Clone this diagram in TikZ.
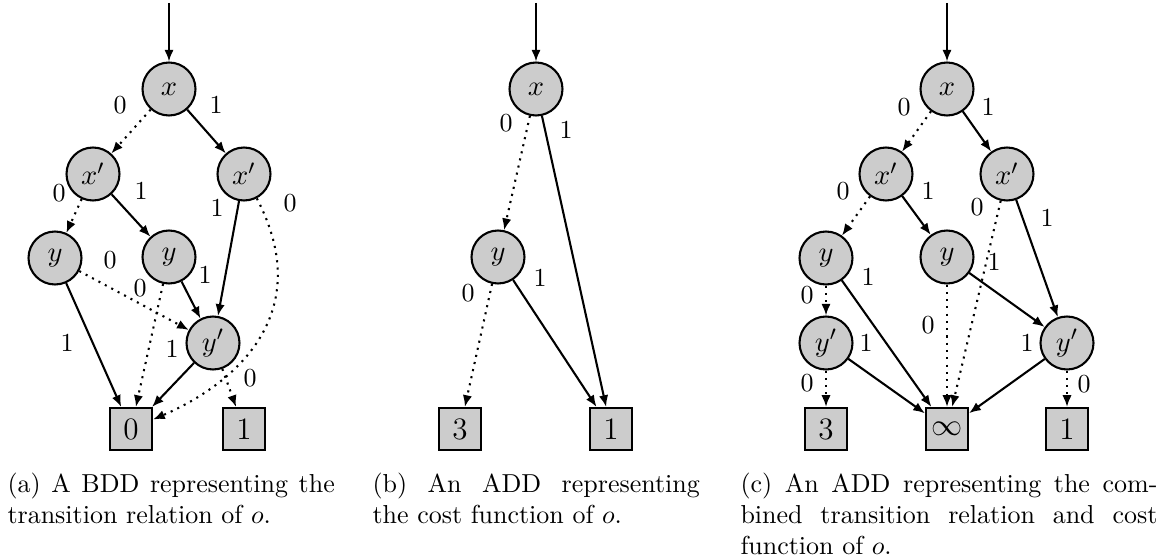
\documentclass[tikz,border=0pt]{standalone}
\usetikzlibrary{arrows.meta}
\begin{document}
\begin{tikzpicture}[x=0.385pt,y=-0.385pt,
  bn/.style={circle, draw, thick, fill=black!20, minimum size=20.4pt, inner sep=0pt, font=\fontsize{11}{13}\selectfont},
  tn/.style={rectangle, draw, thick, fill=black!20, minimum size=16.2pt, inner sep=0pt, font=\large},
  lbl/.style={inner sep=0pt},
  arr/.style={thick, -{Latex[length=4.5pt,width=3.6pt]}},
  hi/.style={arr},
  lo/.style={arr, dotted},
  captxt/.style={inner sep=0pt, anchor=north west, align=justify}]
\useasboundingbox (0,0) rectangle (1164,560);

% ---------- (a) ----------
\coordinate (aT) at (169,3);
\node[bn] (ax)  at (169,89)  {$x$};
\node[bn] (axl) at (93,174)  {$x'$};
\node[bn] (axr) at (244,174) {$x'$};
\node[bn] (ayl) at (55,258)  {$y$};
\node[bn] (aym) at (169,257) {$y$};
\node[bn] (ayp) at (213,343) {$y'$};
\node[tn] (a0)  at (131,429) {$0$};
\node[tn] (a1)  at (244,429) {$1$};
\draw[arr] (aT) -- (ax);
\draw[lo] (ax) -- (axl);
\draw[hi] (ax) -- (axr);
\draw[lo] (axl) -- (ayl);
\draw[hi] (axl) -- (aym);
\draw[hi] (axr) -- (ayp);
\draw[lo] (axr) .. controls (318,315) and (233,385) .. (a0);
\draw[lo] (ayl) -- (ayp);
\draw[hi] (ayl) -- (a0);
\draw[lo] (aym) -- (a0);
\draw[hi] (aym) -- (ayp);
\draw[hi] (ayp) -- (a0);
\draw[lo] (ayp) -- (a1);
\node[lbl] (la1) at (120,105) {0};
\node[lbl] (la2) at (216,105) {1};
\node[lbl] (la3) at (59,193)  {0};
\node[lbl] (la4) at (141,191) {1};
\node[lbl] (la5) at (217,208) {1};
\node[lbl] (la6) at (290,203) {0};
\node[lbl] (la7) at (110,260) {0};
\node[lbl] (la8) at (67,343)  {1};
\node[lbl] (la9) at (205,275) {1};
\node[lbl] (la10) at (140,288) {0};
\node[lbl] (la11) at (172,349) {1};
\node[lbl] (la12) at (250,378) {0};
\node[captxt, text width=126pt] (capa) at (7,472)
  {(a) A BDD representing the\linebreak transition relation of $o$.};

% ---------- (b) ----------
\coordinate (bT) at (536,3);
\node[bn] (bx) at (536,89)  {$x$};
\node[bn] (by) at (498,257) {$y$};
\node[tn] (b3) at (460,429) {$3$};
\node[tn] (b1) at (611,429) {$1$};
\draw[arr] (bT) -- (bx);
\draw[lo] (bx) -- (by);
\draw[hi] (bx) -- (b1);
\draw[lo] (by) -- (b3);
\draw[hi] (by) -- (b1);
\node[lbl] (lb1) at (506,123) {0};
\node[lbl] (lb2) at (566,130) {1};
\node[lbl] (lb3) at (540,278) {1};
\node[lbl] (lb4) at (468,293) {0};
\node[captxt, text width=126pt] (capb) at (372,472)
  {(b) An ADD representing\linebreak the cost function of $o$.};

% ---------- (c) ----------
\coordinate (cT) at (947,3);
\node[bn] (cx)   at (947,89)   {$x$};
\node[bn] (cxl)  at (886,174)  {$x'$};
\node[bn] (cxr)  at (1007,174) {$x'$};
\node[bn] (cyl)  at (826,258)  {$y$};
\node[bn] (cym)  at (947,257)  {$y$};
\node[bn] (cypl) at (826,343)  {$y'$};
\node[bn] (cypr) at (1067,343) {$y'$};
\node[tn] (c3)   at (826,429)  {$3$};
\node[tn] (cinf) at (947,429)  {$\infty$};
\node[tn] (c1)   at (1067,429) {$1$};
\draw[arr] (cT) -- (cx);
\draw[lo] (cx) -- (cxl);
\draw[hi] (cx) -- (cxr);
\draw[lo] (cxl) -- (cyl);
\draw[hi] (cxl) -- (cym);
\draw[lo] (cxr) -- (cinf);
\draw[hi] (cxr) -- (cypr);
\draw[lo] (cyl) -- (cypl);
\draw[hi] (cyl) -- (cinf);
\draw[lo] (cym) -- (cinf);
\draw[hi] (cym) -- (cypr);
\draw[lo] (cypl) -- (c3);
\draw[hi] (cypl) -- (cinf);
\draw[lo] (cypr) -- (c1);
\draw[hi] (cypr) -- (cinf);
\node[lbl] (lc1) at (904,107)  {0};
\node[lbl] (lc2) at (988,107)  {1};
\node[lbl] (lc3) at (843,191)  {0};
\node[lbl] (lc4) at (928,191)  {1};
\node[lbl] (lc5) at (977,207)  {0};
\node[lbl] (lc6) at (1047,218) {1};
\node[lbl] (lc7) at (868,277)  {1};
\node[lbl] (lc8) at (807,295)  {0};
\node[lbl] (lc9) at (994,262)  {1};
\node[lbl] (lc10) at (928,325) {0};
\node[lbl] (lc11) at (866,343) {1};
\node[lbl] (lc12) at (807,383) {0};
\node[lbl] (lc13) at (1027,343) {1};
\node[lbl] (lc14) at (1084,384) {0};
\node[captxt, text width=160.5pt] (capc) at (740,472)
  {(c) An ADD representing the com-\linebreak bined transition relation and cost\linebreak function of $o$.};
\end{tikzpicture}
\end{document}
